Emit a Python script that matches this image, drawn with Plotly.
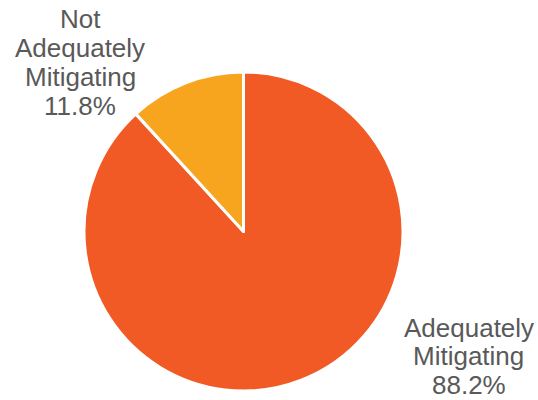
import plotly.graph_objects as go

labels = ["Adequately Mitigating", "Not Adequately Mitigating"]
label_lines = [["Adequately", "Mitigating"], ["Not", "Adequately", "Mitigating"]]
values = [88.2, 11.8]
colors = ["#F15A24", "#F7A51E"]

W, H = 538, 400

fig = go.Figure(go.Pie(
    labels=labels,
    values=values,
    sort=False,
    direction="clockwise",
    rotation=0,
    marker=dict(colors=colors, line=dict(color="white", width=3)),
    textinfo="none",
    hoverinfo="label+percent",
    domain=dict(x=[84 / W, 403 / W], y=[1 - 391 / H, 1 - 72 / H]),
    showlegend=False,
))

# label placement in pixels: center x, first-line center y, line spacing
label_pos = [(468.5, 327.5, 28.7), (80, 19.5, 28.7)]
for lines, v, (px, py0, dy) in zip(label_lines, values, label_pos):
    all_lines = lines + [f"{v:.1f}%"]
    for i, ln in enumerate(all_lines):
        fig.add_annotation(
            x=px / W, y=1 - (py0 + i * dy) / H,
            xref="paper", yref="paper",
            xanchor="center", yanchor="middle",
            text=ln, showarrow=False, align="center",
            font=dict(family="Liberation Sans, Arial", size=26, color="#595959"),
        )

fig.update_layout(
    width=W, height=H,
    margin=dict(l=0, r=0, t=0, b=0),
    paper_bgcolor="white", plot_bgcolor="white",
)
fig.write_html(
    "out.html",
    config={"displayModeBar": False},
    post_script="document.body.style.margin='0';document.body.style.overflow='hidden';",
)
